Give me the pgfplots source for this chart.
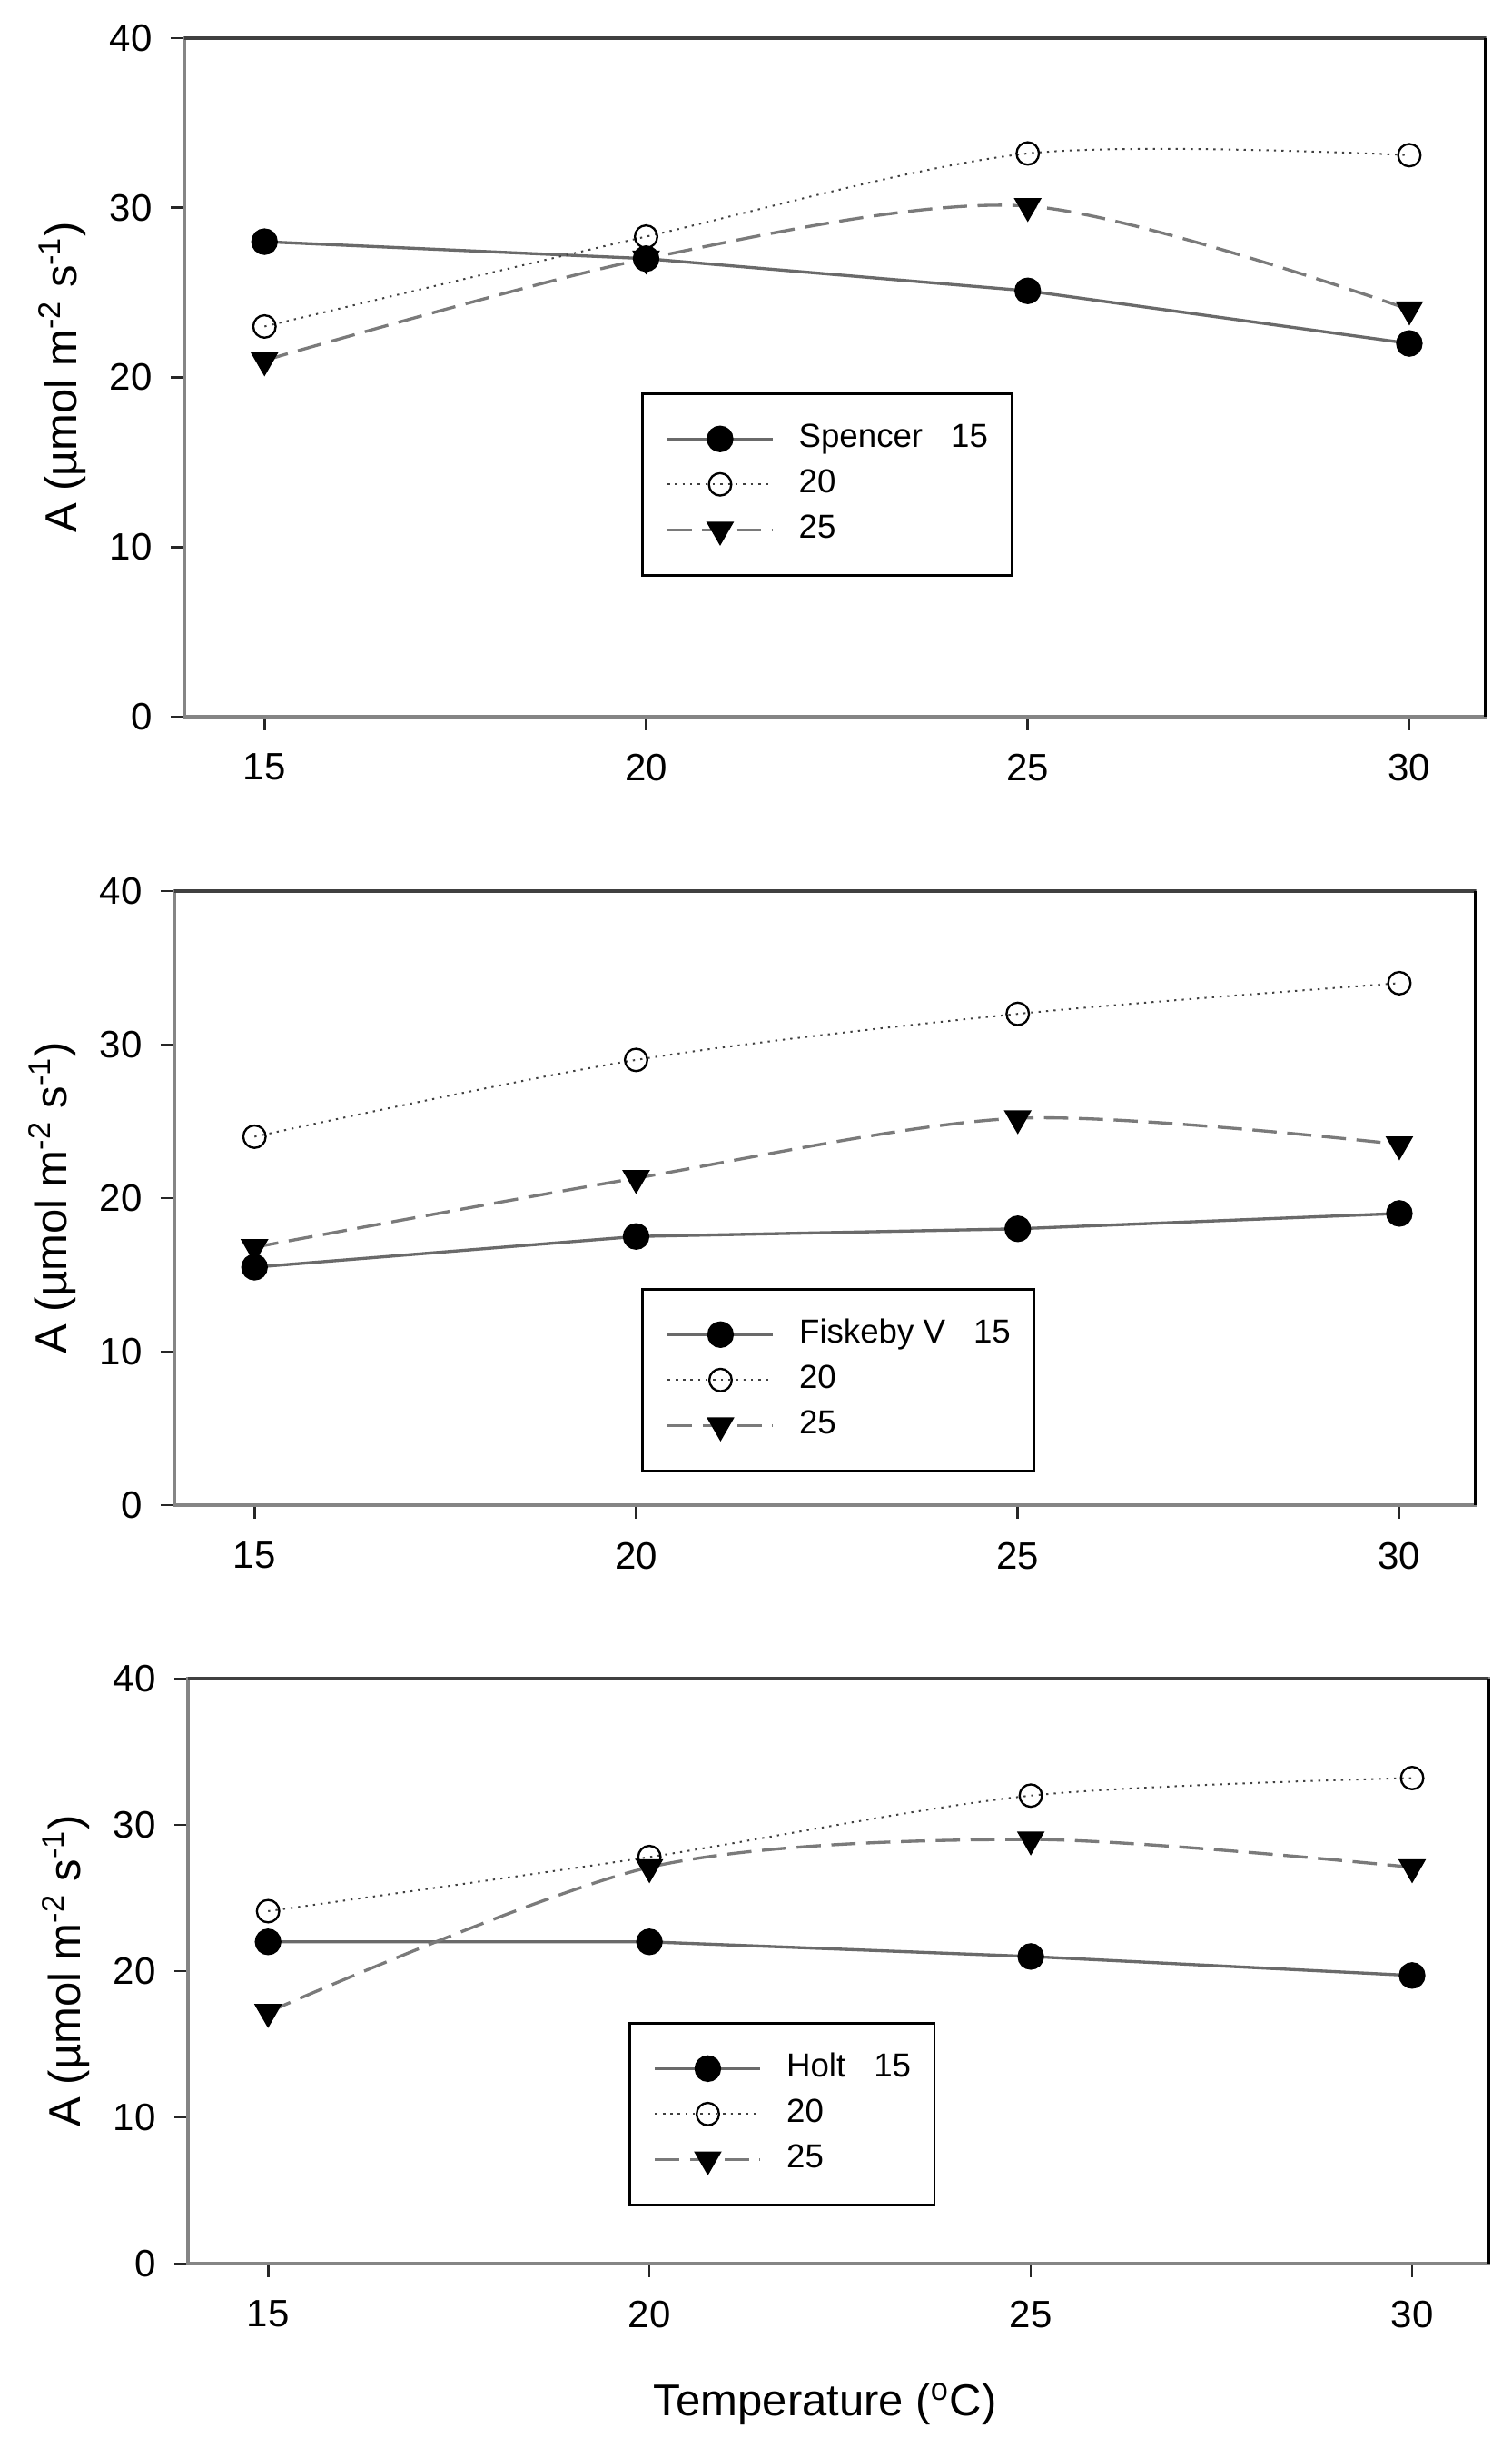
\documentclass[border=0pt]{standalone}
\usepackage{pgfplots}
\pgfplotsset{compat=1.18}
\usepackage{fontspec}
\setmainfont{Liberation Sans}
\definecolor{axgray}{HTML}{858585}
\definecolor{lgray}{HTML}{6A6A6A}
\definecolor{dgray}{HTML}{7A7A7A}
\definecolor{dotc}{HTML}{404040}

\pgfplotsset{
  panel/.style={
    scale only axis, anchor=south west,
    width=429.9pt,
    xmin=13.95, xmax=31, ymin=0, ymax=40,
    xtick={15,20,25,30}, ytick={0,10,20,30,40},
    tick align=outside, major tick length=4.5pt, tick pos=left,
    axis line style={axgray, line width=1.2pt},
    every tick/.style={black!85, line width=0.8pt},
    ticklabel style={font=\fontsize{12.6}{14}\selectfont},
    xticklabel style={yshift=-4.2pt},
    yticklabel style={xshift=-2.6pt},
    /pgf/number format/assume math mode=true,
    ylabel={A (µmol m\textsuperscript{-2} s\textsuperscript{-1})},
    ylabel style={at={(axis description cs:-0.0830,0.5)}, anchor=base, font=\fontsize{14.7}{17}\selectfont},
    legend cell align=left,
    legend style={anchor=north west, draw=black, line width=0.8pt,
      font=\fontsize{11}{13}\selectfont, inner xsep=7.8pt, inner ysep=7.5pt,
      nodes={inner xsep=0pt, inner ysep=2.25pt, text height=8pt, text depth=2.5pt},
      /tikz/every odd column/.style={column sep=8.1pt}},
    legend image code/.code={\draw[mark repeat=2,mark phase=2,##1] plot coordinates {(0pt,0pt)(17.4pt,0pt)(34.8pt,0pt)};},
    after end axis/.code={
      \draw[line width=1.2pt, black!75] (rel axis cs:0,1) -- (rel axis cs:1,1);
      \draw[line width=1.2pt, black] (rel axis cs:1,1) -- (rel axis cs:1,0);
    },
  },
  s15/.style={lgray, line width=1.0pt, mark=*, mark size=3.9pt, mark options={solid, fill=black, draw=black}},
  s20/.style={dotc, line width=0.6pt, dash pattern=on 0.7pt off 1.8pt, smooth, mark=o, mark size=3.7pt, mark options={solid, fill=white, draw=black, line width=0.7pt}},
  s25/.style={dgray, line width=1.0pt, dash pattern=on 8pt off 3.5pt, smooth, mark=triangle*, mark size=4.3pt, mark options={solid, fill=black, draw=black, rotate=180}},
}

\begin{document}
\begin{tikzpicture}
\useasboundingbox (0,0) rectangle (499.5pt,805.2pt);

% Panel 1 : Spencer
\begin{axis}[panel, at={(60.9pt,568.5pt)}, height=224.1pt,
  legend style={at={(axis description cs:0.351,0.478)}}]
\addplot[s15] coordinates {(15,28) (20,27) (25,25.1) (30,22)};
\addplot[s20] coordinates {(15,23) (20,28.3) (25,33.2) (30,33.1)};
\addplot[s25] coordinates {(15,21) (20,27) (25,30.1) (30,24)};
\legend{Spencer\hspace{9.3pt}15, 20, 25}
\end{axis}

% Panel 2 : Fiskeby V
\begin{axis}[panel, at={(57.6pt,308.1pt)}, height=202.8pt,
  legend style={at={(axis description cs:0.359,0.3536)}}]
\addplot[s15] coordinates {(15,15.5) (20,17.5) (25,18) (30,19)};
\addplot[s20] coordinates {(15,24) (20,29) (25,32) (30,34)};
\addplot[s25] coordinates {(15,16.8) (20,21.3) (25,25.2) (30,23.5)};
\legend{Fiskeby V\hspace{9.3pt}15, 20, 25}
\end{axis}

% Panel 3 : Holt
\begin{axis}[panel, at={(62.1pt,57.6pt)}, width=429.6pt, height=193.2pt,
  legend style={at={(axis description cs:0.339,0.413)}},
  xlabel={Temperature (\textsuperscript{o}C)},
  xlabel style={at={(axis description cs:0.49,-0.26)}, anchor=base, font=\fontsize{14.7}{17}\selectfont}]
\addplot[s15] coordinates {(15,22) (20,22) (25,21) (30,19.7)};
\addplot[s20] coordinates {(15,24.1) (20,27.8) (25,32) (30,33.2)};
\addplot[s25] coordinates {(15,17.2) (20,27.1) (25,29) (30,27.1)};
\legend{Holt\hspace{9.3pt}15, 20, 25}
\end{axis}
\end{tikzpicture}
\end{document}
